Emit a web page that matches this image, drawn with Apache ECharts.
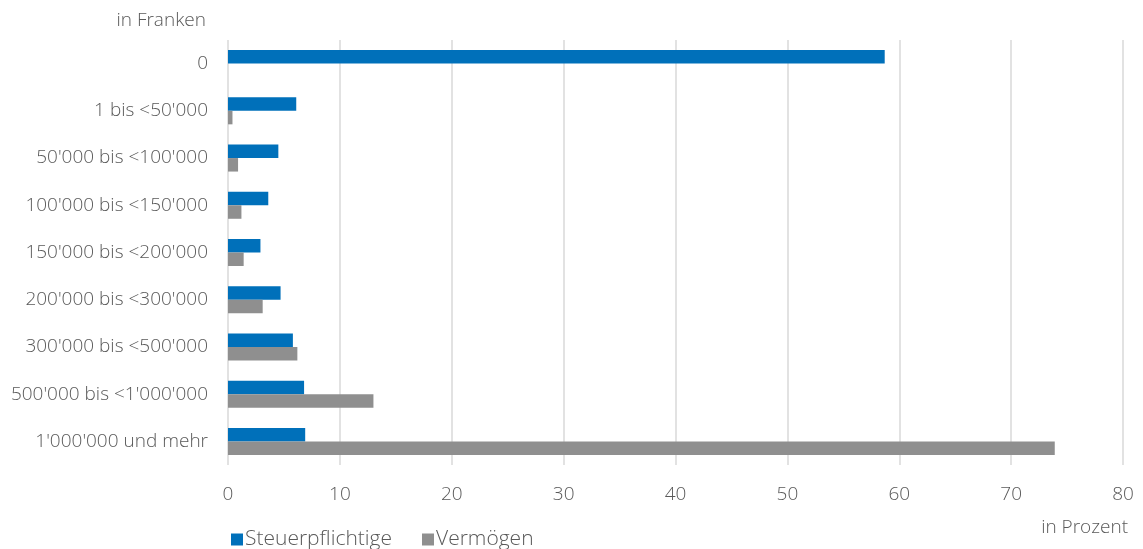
<!DOCTYPE html>
<html><head><meta charset="utf-8">
<script src="https://cdn.jsdelivr.net/npm/echarts@6/dist/echarts.min.js"></script>
<style>html,body{margin:0;padding:0;background:#fff}#c{width:1143px;height:549px}</style>
</head><body><div id="c"></div>
<script>
const categories = ["0","1 bis <50'000","50'000 bis <100'000","100'000 bis <150'000","150'000 bis <200'000","200'000 bis <300'000","300'000 bis <500'000","500'000 bis <1'000'000","1'000'000 und mehr"];
const steuerpflichtige = [58.7, 6.1, 4.5, 3.6, 2.9, 4.7, 5.8, 6.8, 6.9];
const vermoegen = [0, 0.4, 0.9, 1.2, 1.4, 3.1, 6.2, 13.0, 73.9];
const xTicks = [0, 10, 20, 30, 40, 50, 60, 70, 80];

const FONT = "Open Sans";
const FW = 300;
const FS = 19;
const TXT = "#595959";
const chart = echarts.init(document.getElementById('c'), null, {renderer: 'canvas'});
chart.setOption({
  animation: false,
  textStyle: {fontFamily: FONT},
  title: [
    {text: 'in Franken', right: 1143 - 211, top: 6, textStyle: {fontFamily: FONT, fontWeight: FW, fontSize: FS, color: TXT}},
    {text: 'in Prozent', right: 10, top: 513, textStyle: {fontFamily: FONT, fontWeight: FW, fontSize: FS, color: TXT}}
  ],
  legend: {
    left: 226, top: 524, itemWidth: 12, itemHeight: 12, itemGap: 30,
    icon: 'rect',
    textStyle: {fontFamily: FONT, fontWeight: FW, fontSize: 21, color: TXT, padding: [0,0,0,-3]},
    data: ['Steuerpflichtige', 'Vermögen']
  },
  grid: {left: 228, right: 20, top: 40, bottom: 84},
  xAxis: {
    type: 'value', min: xTicks[0], max: xTicks[xTicks.length-1], interval: 10,
    axisLine: {show: false}, axisTick: {show: false},
    axisLabel: {fontFamily: FONT, fontWeight: FW, fontSize: FS, color: TXT, margin: 20},
    splitLine: {lineStyle: {color: '#d9d9d9', width: 1.5}}
  },
  yAxis: {
    type: 'category', data: categories, inverse: true,
    axisLine: {show: false}, axisTick: {show: false},
    axisLabel: {fontFamily: FONT, fontWeight: FW, fontSize: FS, color: TXT, margin: 20}
  },
  series: [
    {name: 'Steuerpflichtige', type: 'bar', data: steuerpflichtige, barWidth: 13.5, barGap: '0%',
     itemStyle: {color: '#0070ba'}},
    {name: 'Vermögen', type: 'bar', data: vermoegen, barWidth: 13.5, barGap: '0%',
     itemStyle: {color: '#8f8f8f'}}
  ]
});
</script></body></html>
